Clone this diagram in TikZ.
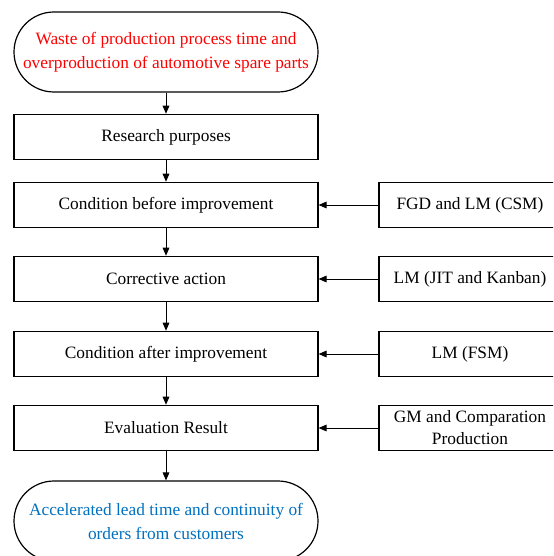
\documentclass[tikz,border=0pt]{standalone}
\usepackage{fontspec}
\setmainfont{Liberation Serif}
\usepackage{xcolor}
\usepackage{tikz}
\usetikzlibrary{arrows.meta,positioning}
\definecolor{wastered}{HTML}{FF0000}
\definecolor{resultblue}{HTML}{0070C0}

\begin{document}
\begin{tikzpicture}[x=0.75pt, y=-0.75pt,
        terminal/.style={draw=black, line width=0.9pt, rounded corners=30pt, minimum width=228pt, minimum height=60pt, align=center, inner sep=0pt},
        stage/.style={draw=black, line width=0.9pt, minimum width=228pt, minimum height=34pt, inner sep=0pt},
        method/.style={draw=black, line width=0.9pt, minimum width=136.5pt, minimum height=34pt, align=center, inner sep=0pt},
        flow/.style={draw=black, line width=0.7pt, -{Triangle[length=6pt, width=5pt]}},
        every node/.style={font=\fontsize{13}{18}\selectfont}
    ]
        \clip (0,0) rectangle (553,556);
        \useasboundingbox (0,0) rectangle (553,556);

        \node[terminal, text=wastered] (waste) at (166,52) {Waste of production process time and\\overproduction of automotive spare parts};

        \node[stage] (purpose) at (166,137) {Research purposes};
        \node[stage] (before) at (166,205) {Condition before improvement};
        \node[stage] (corrective) at (166,279) {Corrective action};
        \node[stage] (after) at (166,354) {Condition after improvement};
        \node[stage] (evaluation) at (166,428) {Evaluation Result};

        \node[terminal, text=resultblue] (result) at (166,521) {Accelerated lead time and continuity of\\orders from customers};

        \node[method] (csm) at (470,205) {FGD and LM (CSM)};
        \node[method] (jit) at (470,279) {LM (JIT and Kanban)};
        \node[method] (fsm) at (470,354) {LM (FSM)};
        \node[method, font=\fontsize{13}{16.5}\selectfont] (gm) at (470,428) {GM and Comparation\\Production};

        \draw[flow] (waste) -- (purpose);
        \draw[flow] (purpose) -- (before);
        \draw[flow] (before) -- (corrective);
        \draw[flow] (corrective) -- (after);
        \draw[flow] (after) -- (evaluation);
        \draw[flow] (evaluation) -- (result);

        \draw[flow] (csm) -- (before);
        \draw[flow] (jit) -- (corrective);
        \draw[flow] (fsm) -- (after);
        \draw[flow] (gm) -- (evaluation);
    \end{tikzpicture}
\end{document}
